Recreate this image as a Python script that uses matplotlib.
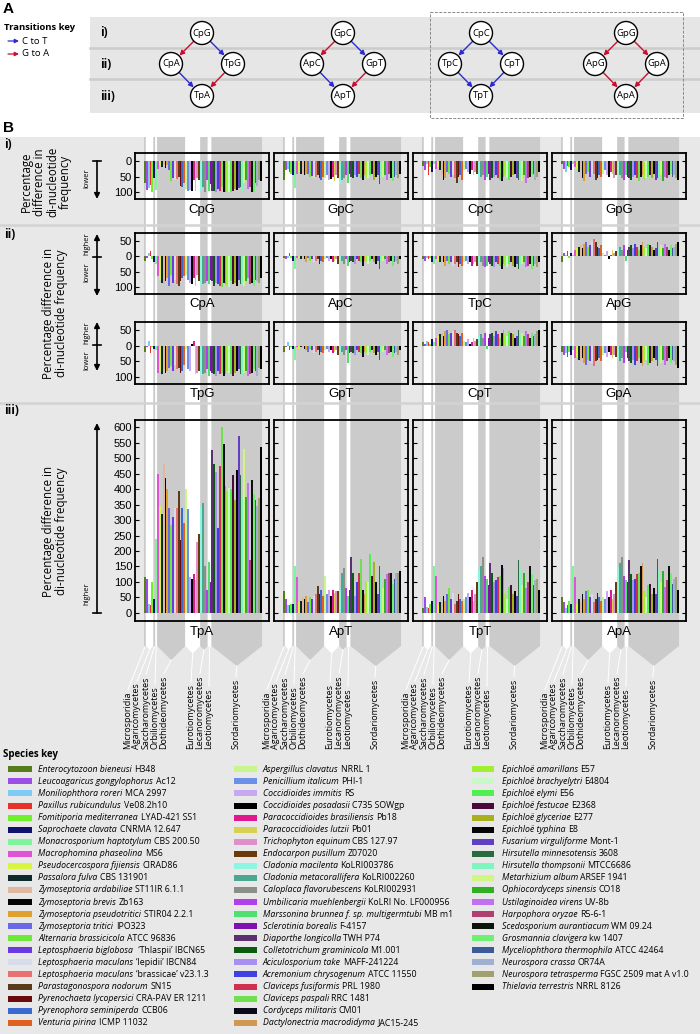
import matplotlib
matplotlib.use('Agg')
import matplotlib.pyplot as plt
from matplotlib.patches import Rectangle, Polygon, Circle, FancyArrowPatch
import numpy as np

# ---------------- data ----------------
class_names = ['Microsporidia', 'Agaricomycetes', 'Saccharomycetes', 'Orbiliomycetes',
               'Dothideomycetes', 'Eurotiomycetes', 'Lecanoromycetes', 'Leotiomycetes',
               'Sordariomycetes']
class_counts = [1, 4, 1, 1, 15, 8, 4, 2, 27]

species_names = [
    'Enterocytozoon bieneusi', 'Leucoagaricus gongylophorus', 'Moniliophthora roreri',
    'Paxillus rubicundulus', 'Fomitiporia mediterranea', 'Saprochaete clavata',
    'Monacrosporium haptotylum', 'Macrophomina phaseolina', 'Pseudocercospora fijiensis',
    'Passalora fulva', 'Zymoseptoria ardabiliae', 'Zymoseptoria brevis',
    'Zymoseptoria pseudotritici', 'Zymoseptoria tritici', 'Alternaria brassicicola',
    'Leptosphaeria biglobosa', 'Leptosphaeria maculans', 'Leptosphaeria maculans',
    'Parastagonospora nodorum', 'Pyrenochaeta lycopersici', 'Pyrenophora seminiperda',
    'Venturia pirina',
    'Aspergillus clavatus', 'Penicillium italicum', 'Coccidioides immitis',
    'Coccidioides posadasii', 'Paracoccidioides brasiliensis', 'Paracoccidioides lutzii',
    'Trichophyton equinum', 'Endocarpon pusillum', 'Cladonia macilenta',
    'Cladonia metacorallifera', 'Caloplaca flavorubescens', 'Umbilicaria muehlenbergii',
    'Marssonina brunnea f. sp. multigermtubi', 'Sclerotinia borealis', 'Diaporthe longicolla',
    'Colletotrichum graminicola', 'Aciculosporium take', 'Acremonium chrysogenum',
    'Claviceps fusiformis', 'Claviceps paspali', 'Cordyceps militaris',
    'Dactylonectria macrodidyma',
    'Epichloë amarillans', 'Epichloë brachyelytri', 'Epichloë elymi', 'Epichloë festucae',
    'Epichloë glyceriae', 'Epichloë typhina', 'Fusarium virguliforme',
    'Hirsutella minnesotensis', 'Hirsutella thompsonii', 'Metarhizium album',
    'Ophiocordyceps sinensis', 'Ustilaginoidea virens', 'Harpophora oryzae',
    'Scedosporium aurantiacum', 'Grosmannia clavigera', 'Myceliophthora thermophila',
    'Neurospora crassa', 'Neurospora tetrasperma', 'Thielavia terrestris']
species_strains = [
    'H348', 'Ac12', 'MCA 2997', 'Ve08.2h10', 'LYAD-421 SS1', 'CNRMA 12.647', 'CBS 200.50',
    'MS6', 'CIRAD86', 'CBS 131901', 'ST11IR 6.1.1', 'Zb163', 'STIR04 2.2.1', 'IPO323',
    'ATCC 96836', ' \u2018Thlaspii\u2019 IBCN65', '\u2018lepidii\u2019 IBCN84',
    '\u2018brassicae\u2019 v23.1.3', 'SN15', 'CRA-PAV ER 1211', 'CCB06', 'ICMP 11032',
    'NRRL 1', 'PHI-1', 'RS', 'C735 SOWgp', 'Pb18', 'Pb01', 'CBS 127.97', 'Z07020',
    'KoLRI003786', 'KoLRI002260', 'KoLRI002931', 'KoLRI No. LF000956', 'MB m1', 'F-4157',
    'TWH P74', 'M1.001', 'MAFF-241224', 'ATCC 11550', 'PRL 1980', 'RRC 1481', 'CM01',
    'JAC15-245',
    'E57', 'E4804', 'E56', 'E2368', 'E277', 'E8', 'Mont-1', '3608', 'MTCC6686',
    'ARSEF 1941', 'CO18', 'UV-8b', 'R5-6-1', 'WM 09.24', 'kw 1407', 'ATCC 42464',
    'OR74A', 'FGSC 2509 mat A v1.0', 'NRRL 8126']
species_colors = [
    '#567d1b', '#9b4ee6', '#7ecbf5', '#e8312a', '#6ef02a', '#10106e', '#7ef59a',
    '#e052d6', '#d8f542', '#0c2a2a', '#e0b8a0', '#050505', '#e0a030', '#6a6ae8',
    '#6ee83a', '#6a3ae0', '#d6dcea', '#e87070', '#5a3a1a', '#6a0a0a', '#3a6ad0',
    '#e06020',
    '#c8f590', '#6a90e8', '#c8a8f0', '#000000', '#e01890', '#d8d050', '#e090c8',
    '#6a3a0a', '#90f5e0', '#4aa890', '#8a9088', '#b040e8', '#50e070', '#8010b0',
    '#5a3070', '#0a5a10', '#a890f0', '#4040e0', '#d03050', '#70e050', '#0a0a1a',
    '#d09850',
    '#a0f030', '#c8f8c8', '#50f050', '#4a0a3a', '#a8b020', '#050505', '#6040c0',
    '#2a6a40', '#80f5c0', '#d0f580', '#30b020', '#c070f0', '#b04070', '#0a140a',
    '#70f070', '#3a5a9a', '#a0b0d0', '#a0a070', '#000000']

# percentage differences (negative = lower, positive = higher)
cpg = [-72, -94, -88, -78, -99, -56, -94,
       -25, -15, -18, -12, -22, -14, -30, -65, -55, -60, -58, -50, -80, -82, -70,
       -90, -95, -92, -97, -60, -95, -55, -60,
       -95, -85, -98, -60,
       -95, -75,
       -95, -97, -100, -90, -95, -85, -98, -99, -100, -98, -100, -95, -90, -92, -88,
       -85, -96, -70, -60, -90, -85, -98, -100, -70, -80, -60, -65]
gpc = [-60, -30, -25, -35, -40, -45, -88,
       -40, -35, -40, -38, -45, -42, -40, -50, -48, -55, -50, -45, -55, -60, -50,
       -55, -45, -60, -58, -50, -65, -45, -55,
       -75, -60, -55, -45,
       -70, -40,
       -50, -55, -45, -50, -40, -55, -60, -45, -50, -55, -45, -40, -60, -50, -45,
       -75, -55, -50, -45, -60, -40, -55, -65, -50, -45, -55, -40]
cpc = [-15, -30, -10, -45, -20, -35, -10,
       -25, -20, -30, -45, -60, -55, -35, -40, -50, -45, -55, -70, -50, -45, -60,
       -30, -25, -35, -40, -30, -45, -35, -40,
       -55, -50, -45, -60,
       -50, -40,
       -60, -55, -50, -45, -55, -60, -65, -50, -45, -55, -60, -50, -45, -40, -55,
       -60, -50, -65, -45, -70, -55, -50, -45, -40, -60, -50, -35]
gpg = [-10, -25, -35, -15, -20, -30, -10,
       -20, -25, -35, -30, -55, -65, -40, -35, -50, -45, -40, -60, -55, -45, -50,
       -40, -30, -45, -50, -35, -40, -55, -45,
       -50, -45, -55, -60,
       -45, -50,
       -55, -60, -50, -45, -55, -65, -50, -45, -60, -55, -50, -45, -55, -40, -60,
       -55, -50, -45, -65, -50, -55, -45, -40, -50, -45, -55, -60]
cpa = [-15, -5, 10, 15, -10, -20, -25,
       -65, -75, -85, -90, -80, -70, -95, -60, -85, -75, -90, -95, -80, -70, -65,
       -60, -75, -85, -90, -70, -95, -60, -80,
       -95, -90, -85, -80,
       -90, -75,
       -80, -95, -85, -90, -95, -100, -85, -90, -95, -100, -80, -90, -85, -95, -75,
       -90, -85, -95, -80, -70, -90, -85, -95, -75, -80, -85, -70]
apc = [-5, -10, -5, 10, -5, -15, -40,
       -5, -5, -10, -5, -10, -20, -5, -15, -10, -20, -15, -10, -25, -15, -20,
       -10, -5, -15, -10, -20, -15, -10, -25,
       -20, -15, -25, -10,
       -30, -20,
       -15, -20, -25, -10, -15, -20, -30, -15, -20, -25, -15, -10, -20, -25, -15,
       -40, -20, -15, -10, -25, -20, -15, -30, -20, -15, -25, -10]
tpc = [-10, -15, -5, -10, -5, -20, -25,
       -10, -15, -20, -15, -20, -30, -15, -25, -20, -30, -25, -20, -35, -25, -30,
       -20, -15, -25, -20, -30, -25, -20, -30,
       -25, -20, -30, -35,
       -30, -20,
       -25, -30, -35, -20, -25, -30, -40, -25, -30, -35, -25, -20, -30, -35, -25,
       -40, -30, -25, -20, -35, -30, -25, -40, -30, -25, -35, -20]
apg = [-20, 10, 5, 15, -5, 10, 5,
       20, 25, 30, 35, 25, 40, 45, 30, 35, 50, 55, 45, 30, 25, 35,
       10, 5, 15, -10, 5, 20, 10, 15,
       25, 30, 20, 35,
       -15, 20,
       30, 35, 25, 40, 30, 20, 35, 45, 30, 25, 40, 35, 30, 20, 25,
       45, 30, 35, 25, 40, 30, 20, 35, 25, 30, 40, 45]
tpg = [-20, -5, 15, -25, -5, -10, -15,
       -85, -80, -90, -75, -85, -80, -70, -65, -80, -60, -75, -70, -85, -80, -60,
       -10, -75, -80, 5, 15, -90, -85, -80,
       -95, -90, -85, -75,
       -95, -80,
       -85, -90, -95, -80, -90, -85, -95, -90, -80, -85, -90, -95, -85, -80, -75,
       -90, -95, -85, -80, -95, -90, -85, -75, -80, -95, -70, -75]
gpt = [-20, -5, 10, -15, -5, -10, -45,
       -5, -10, -5, -5, -10, -15, -20, -10, -15, -25, -20, -15, -30, -20, -25,
       -15, -10, -20, -15, -25, -20, -15, -30,
       -25, -20, -30, -15,
       -55, -25,
       -20, -25, -30, -15, -20, -25, -35, -20, -25, -30, -20, -15, -25, -30, -20,
       -45, -25, -20, -15, -30, -25, -20, -35, -25, -20, -30, -15]
cpt = [10, 5, 15, 10, 5, 20, 10,
       25, 30, 35, 40, 30, 45, 50, 35, 40, 45, 50, 40, 35, 30, 40,
       15, 10, 20, 5, 10, 25, 15, 20,
       30, 35, 25, 40,
       -10, 25,
       35, 40, 30, 45, 35, 25, 40, 50, 35, 30, 45, 40, 35, 25, 30,
       50, 35, 40, 30, 45, 35, 25, 40, 30, 35, 45, 50]
gpa = [-20, -30, -25, -35, -20, -30, -15,
       -40, -35, -45, -50, -40, -55, -60, -45, -50, -55, -65, -50, -45, -40, -50,
       -30, -25, -35, -20, -30, -40, -30, -35,
       -45, -50, -40, -55,
       -20, -40,
       -50, -55, -45, -60, -50, -40, -55, -65, -50, -45, -60, -55, -50, -40, -45,
       -65, -50, -55, -45, -60, -50, -40, -55, -45, -50, -60, -70]
tpa = [115, 110, 30, 25, 100, 45, 240,
       450, 345, 320, 480, 435, 400, 340, 285, 310, 340, 340, 395, 235, 340, 290,
       400, 335, 115, 110, 125, 105, 230, 255,
       340, 355, 150, 75,
       165, 100,
       525, 480, 455, 275, 475, 600, 545, 410, 395, 405, 400, 445, 365, 460, 570,
       445, 370, 530, 375, 420, 170, 430, 385, 365, 345, 370, 535]
apt = [70, 45, 25, 25, 28, 30, 150,
       115, 35, 40, 50, 45, 55, 35, 50, 45, 55, 60, 88, 60, 75, 55,
       120, 60, 75, 55, 75, 65, 70, 70,
       75, 130, 145, 80,
       55, 75,
       180, 130, 55, 100, 130, 175, 75, 60, 100, 100, 190, 120, 165, 100, 60,
       150, 130, 80, 110, 125, 130, 130, 95, 110, 130, 130, 135]
tpt = [15, 50, 20, 15, 30, 40, 150,
       120, 30, 35, 35, 55, 40, 60, 80, 45, 65, 30, 40, 60, 45, 40,
       45, 50, 65, 50, 75, 40, 60, 100,
       140, 150, 180, 120,
       110, 90,
       160, 130, 100, 105, 115, 120, 155, 145, 60, 45, 85, 90, 60, 70, 55,
       170, 140, 90, 130, 80, 100, 150, 125, 90, 105, 110, 75]
apa = [50, 35, 15, 25, 40, 30, 150,
       115, 30, 45, 35, 60, 45, 70, 75, 50, 60, 35, 45, 65, 50, 40,
       50, 45, 70, 50, 75, 45, 60, 100,
       145, 160, 180, 120,
       105, 100,
       170, 125, 105, 110, 125, 130, 150, 160, 70, 50, 90, 95, 60, 80, 60,
       175, 140, 100, 135, 85, 105, 150, 130, 95, 110, 115, 75]

panel_rows = [
    [('CpG', cpg), ('GpC', gpc), ('CpC', cpc), ('GpG', gpg)],
    [('CpA', cpa), ('ApC', apc), ('TpC', tpc), ('ApG', apg)],
    [('TpG', tpg), ('GpT', gpt), ('CpT', cpt), ('GpA', gpa)],
    [('TpA', tpa), ('ApT', apt), ('TpT', tpt), ('ApA', apa)],
]
row_ticks = [([0, -50, -100], ['0', '50', '100'], (-122, 26)),
             ([50, 0, -50, -100], ['50', '0', '50', '100'], (-121, 74)),
             ([50, 0, -50, -100], ['50', '0', '50', '100'], (-121, 74)),
             (list(range(0, 601, 50)), [str(v) for v in range(0, 601, 50)], (-26, 623))]

# ---------------- figure ----------------
plt.rcParams['font.family'] = ['Open Sans', 'DejaVu Sans']
ARIAL = ['Liberation Sans', 'DejaVu Sans']
W, H = 700, 1034
fig = plt.figure(figsize=(W / 100, H / 100), dpi=100)
fig.patch.set_facecolor('white')
bg = fig.add_axes([0, 0, 1, 1], zorder=0)
bg.set_xlim(0, W)
bg.set_ylim(H, 0)
bg.axis('off')
renderer = fig.canvas.get_renderer()

def rect(x0, y0, x1, y1, **kw):
    bg.add_patch(Rectangle((x0, y0), x1 - x0, y1 - y0, **kw))

ROWBG = '#e8e8e8'
SEP = '#d3d3d3'

# ---------- Panel A ----------
bg.text(3, 9, 'A', fontsize=11, fontweight='bold', family=ARIAL, va='center', ha='left')
rect(90, 17, 700, 113, facecolor='#e6e6e6', edgecolor='none', zorder=0)
for yy in (48, 79):
    bg.plot([90, 700], [yy, yy], color='#cccccc', lw=1.8, zorder=1)
for lab, yy in zip(['i)', 'ii)', 'iii)'], [33, 64, 96]):
    bg.text(100, yy, lab, fontsize=8.5, fontweight='bold', va='center', ha='left')
bg.text(4, 27, 'Transitions key', fontsize=6.8, fontweight='bold', va='center')
BLUE, RED = '#2b2bd0', '#c8102e'
for yy, col, lab in [(41, BLUE, 'C to T'), (54, RED, 'G to A')]:
    bg.add_patch(FancyArrowPatch((8, yy), (19, yy), arrowstyle='-|>', mutation_scale=6,
                                 color=col, lw=0.9, shrinkA=0, shrinkB=0))
    bg.text(22, yy, lab, fontsize=6.8, va='center')

diagrams = [(('CpG', 'CpA', 'TpG', 'TpA'), 202, (RED, BLUE, BLUE, RED)),
            (('GpC', 'ApC', 'GpT', 'ApT'), 343, (RED, BLUE, BLUE, RED)),
            (('CpC', 'TpC', 'CpT', 'TpT'), 481, (BLUE, BLUE, BLUE, BLUE)),
            (('GpG', 'ApG', 'GpA', 'ApA'), 626, (RED, RED, RED, RED))]
R = 11.5
for names, cx, cols in diagrams:
    pts = [(cx, 33), (cx - 31, 64), (cx + 31, 64), (cx, 96)]
    edges = [(0, 1), (0, 2), (1, 3), (2, 3)]
    for (a, b), c in zip(edges, cols):
        p, q = np.array(pts[a], float), np.array(pts[b], float)
        u = (q - p) / np.linalg.norm(q - p)
        bg.add_patch(FancyArrowPatch(tuple(p + u * R), tuple(q - u * (R + 0.5)),
                                     arrowstyle='-|>', mutation_scale=7, color=c, lw=1.0,
                                     shrinkA=0, shrinkB=0, zorder=3))
    for (px, py), nm in zip(pts, names):
        bg.add_patch(Circle((px, py), R, facecolor='white', edgecolor='black', lw=1.0, zorder=4))
        bg.text(px, py, nm, fontsize=6.8, ha='center', va='center', zorder=5)
bg.add_patch(Rectangle((430, 12), 253, 106, facecolor='none', edgecolor='#8a8a8a',
                       lw=0.7, ls=(0, (3, 1.5)), zorder=2))

# ---------- Panel B backgrounds ----------
bg.text(3, 128, 'B', fontsize=11, fontweight='bold', family=ARIAL, va='center', ha='left')
rect(0, 137, 700, 1034, facecolor=ROWBG, edgecolor='none', zorder=0)

COL_X = [135, 274, 413, 552]
AXW = 134
ROWS = [(153, 46), (233, 61), (322, 62), (420, 201)]
XMIN, XMAX = -4.8, 66.7
PPU = AXW / (XMAX - XMIN)
n_species = len(species_colors)
idx = np.arange(n_species)

bounds = np.concatenate([[0], np.cumsum(class_counts)])
label_offsets = [-16, -7, 2, 11, 20, 47, 56, 65, 92]
BAND_TOP, BAND_BASE = 137, 646
LABEL_BOTTOM = 749

for c, x0 in enumerate(COL_X):
    xpx = lambda v: x0 + (v - XMIN) * PPU
    start0 = xpx(0)
    for k in range(len(class_counts)):
        a, b = xpx(bounds[k]), xpx(bounds[k + 1])
        w = b - a
        depth = min(0.5 * w, 20)
        fc = '#cbcbcb' if k % 2 == 0 else '#ffffff'
        poly = [(a, BAND_TOP), (b, BAND_TOP), (b, BAND_BASE), ((a + b) / 2, BAND_BASE + depth),
                (a, BAND_BASE)]
        bg.add_patch(Polygon(poly, closed=True, facecolor=fc, edgecolor='none', zorder=1))
        lx = start0 + label_offsets[k]
        t = bg.text(lx, LABEL_BOTTOM, class_names[k], rotation=90, ha='center', va='bottom',
                    fontsize=6.5, zorder=3)
        bb = t.get_window_extent(renderer)
        top = H - bb.y1
        bg.plot([(a + b) / 2, lx], [BAND_BASE + depth, top - 2], color='white', lw=0.7, zorder=2)

# row separators
for yy in (224.5, 402.5):
    bg.plot([0, 700], [yy, yy], color=SEP, lw=1.8, zorder=1.5)

for lab, yy in zip(['i)', 'ii)', 'iii)'], [144, 234, 411]):
    bg.text(4, yy, lab, fontsize=8.5, fontweight='bold', va='center', ha='left', zorder=3)

# y labels
bg.text(46, 182, 'Percentage\ndifference in\ndi-nucleotide\nfrequency', rotation=90,
        ha='center', va='center', fontsize=8.3, linespacing=1.0, zorder=3)
bg.text(55, 313, 'Percentage difference in\ndi-nucleotide frequency', rotation=90,
        ha='center', va='center', fontsize=8.3, linespacing=1.0, zorder=3)
bg.text(55, 531, 'Percentage difference in\ndi-nucleotide frequency', rotation=90,
        ha='center', va='center', fontsize=8.3, linespacing=1.0, zorder=3)

AX_X = 97
def arrow(y0, y1, style):
    bg.add_patch(FancyArrowPatch((AX_X, y0), (AX_X, y1), arrowstyle=style, mutation_scale=8,
                                 color='black', lw=1.2, shrinkA=0, shrinkB=0, zorder=3))
def cap(y):
    bg.plot([AX_X - 4, AX_X + 4], [y, y], color='black', lw=1.2, zorder=3)

# row i
arrow(161, 199, '-|>'); cap(161)
bg.text(87, 178, 'lower', rotation=90, ha='center', va='center', fontsize=5.5, zorder=3)
# row ii a
arrow(257, 234, '-|>'); arrow(257, 296, '-|>'); cap(257)
bg.text(87, 244, 'higher', rotation=90, ha='center', va='center', fontsize=5.5, zorder=3)
bg.text(87, 272, 'lower', rotation=90, ha='center', va='center', fontsize=5.5, zorder=3)
# row ii b
arrow(345, 322, '-|>'); arrow(345, 371, '-|>'); cap(345)
bg.text(87, 333, 'higher', rotation=90, ha='center', va='center', fontsize=5.5, zorder=3)
bg.text(87, 360, 'lower', rotation=90, ha='center', va='center', fontsize=5.5, zorder=3)
# row iii
arrow(613, 423, '-|>'); cap(613)
bg.text(87, 594, 'higher', rotation=90, ha='center', va='center', fontsize=5.5, zorder=3)

# ---------- bar panels ----------
for r, (ry, rh) in enumerate(ROWS):
    ticks, tlabels, ylim = row_ticks[r]
    for c, (name, vals) in enumerate(panel_rows[r]):
        x0 = COL_X[c]
        ax = fig.add_axes([x0 / W, 1 - (ry + rh) / H, AXW / W, rh / H], zorder=2)
        ax.patch.set_alpha(0)
        ax.bar(idx, vals, width=1.0, align='edge', color=species_colors, linewidth=0)
        ax.set_xlim(XMIN, XMAX)
        ax.set_ylim(*ylim)
        ax.set_xticks([])
        ax.set_yticks(ticks)
        ax.set_yticklabels(tlabels, family=ARIAL, fontsize=8)
        ax.tick_params(axis='y', direction='in', length=3, width=0.8, left=True, right=True,
                       labelleft=(c == 0), pad=2)
        for s in ax.spines.values():
            s.set_linewidth(1.3)
        bg.text(x0 + AXW / 2, ry + rh + 10.5, name, ha='center', va='center', fontsize=9.5,
                family=ARIAL, zorder=3)

# ---------- species key ----------
bg.text(3, 754, 'Species key', fontsize=7, fontweight='bold', va='center', zorder=3)
key_cols = [(8.3, 31.7, 38.3, 0, 22), (234, 256.7, 262.7, 22, 44), (471.7, 494, 501.7, 44, 63)]
Y0, DY = 769.3, 12.07
FS = 6.3
for sx0, sx1, tx, i0, i1 in key_cols:
    for j, i in enumerate(range(i0, i1)):
        yy = Y0 + j * DY
        rect(sx0, yy - 3, sx1, yy + 3, facecolor=species_colors[i], edgecolor='none', zorder=3)
        t = bg.text(tx, yy, species_names[i], style='italic', fontsize=FS, va='center', zorder=3)
        bb = t.get_window_extent(renderer)
        bg.text(bb.x1 + 2.5, yy, species_strains[i], fontsize=FS, va='center', zorder=3)

fig.savefig('out.png', dpi=100, facecolor='white')
